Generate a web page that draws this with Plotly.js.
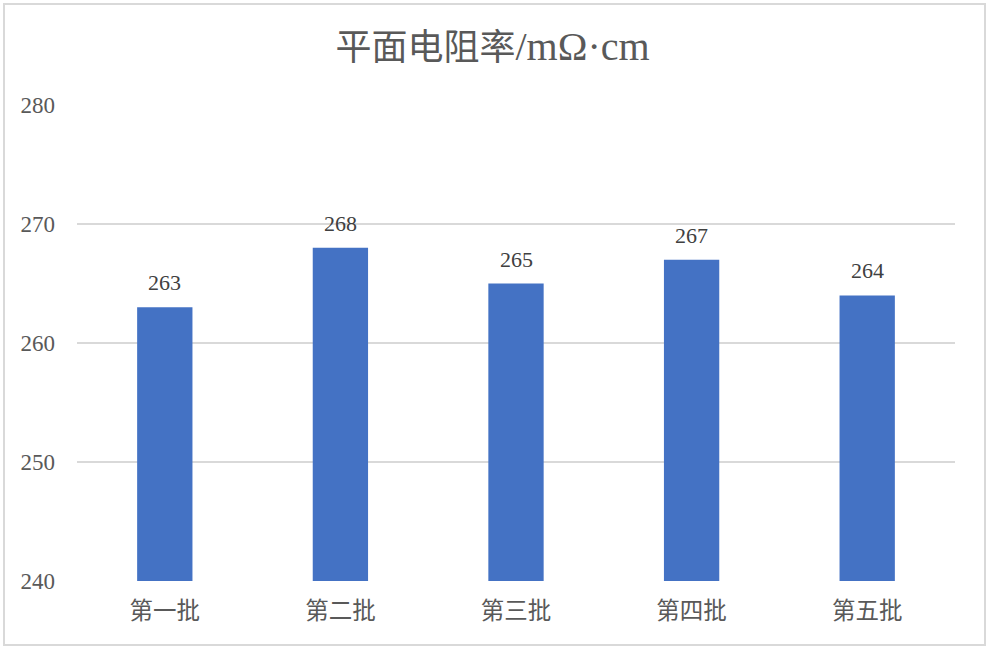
<!DOCTYPE html>
<html>
<head>
<meta charset="utf-8">
<script src="https://cdn.plot.ly/plotly-3.0.1.min.js"></script>
<style>
html,body{margin:0;padding:0;background:#fff;}
#chart{width:991px;height:652px;}
#frame{position:absolute;left:3px;top:3px;width:979px;height:639px;border:2px solid #d9d9d9;pointer-events:none;}
</style>
</head>
<body>
<div id="chart"></div>
<div id="frame"></div>
<script>
var categories = ["第一批", "第二批", "第三批", "第四批", "第五批"];
var values = [263, 268, 265, 267, 264];
var yTicks = [240, 250, 260, 270, 280];
var titleMain = "平面电阻率";
var titleUnit = "/mΩ·cm";

var serif = "'Liberation Serif', 'Times New Roman', 'Noto Sans CJK SC', serif";

var trace = {
  type: "bar",
  x: categories,
  y: values,
  marker: {color: "#4472C4"},
  width: 0.315,
  hoverinfo: "x+y",
  cliponaxis: true
};

var annotations = categories.map(function(c, i){
  return {
    x: c, y: values[i], xref: "x", yref: "y",
    text: String(values[i]),
    showarrow: false,
    yanchor: "bottom",
    yshift: 10,
    font: {family: serif, size: 22, color: "#404040"}
  };
});

var layout = {
  width: 991, height: 652,
  margin: {l: 77, r: 36, t: 105, b: 71},
  paper_bgcolor: "#fff", plot_bgcolor: "#fff",
  title: {
    text: titleMain + "<span style='font-size:40px'>" + titleUnit + "</span>",
    x: 0.497, xanchor: "center",
    y: 0.927, yanchor: "middle",
    font: {family: serif, size: 36, color: "#595959"}
  },
  showlegend: false,
  xaxis: {
    type: "category",
    showgrid: false,
    showline: false,
    zeroline: false,
    ticks: "",
    tickfont: {family: "'Noto Sans CJK SC', sans-serif", size: 23.5, color: "#595959"},
    ticklabelstandoff: 13
  },
  yaxis: {
    range: [240, 280],
    tickvals: yTicks,
    ticktext: yTicks.map(String),
    showgrid: true,
    gridcolor: "#d9d9d9",
    gridwidth: 1.5,
    zeroline: false,
    showline: false,
    ticks: "",
    ticklabelstandoff: 21,
    tickfont: {family: serif, size: 23, color: "#595959"}
  },
  annotations: annotations
};

Plotly.newPlot("chart", [trace], layout, {displayModeBar: false, staticPlot: true});
</script>
</body>
</html>
